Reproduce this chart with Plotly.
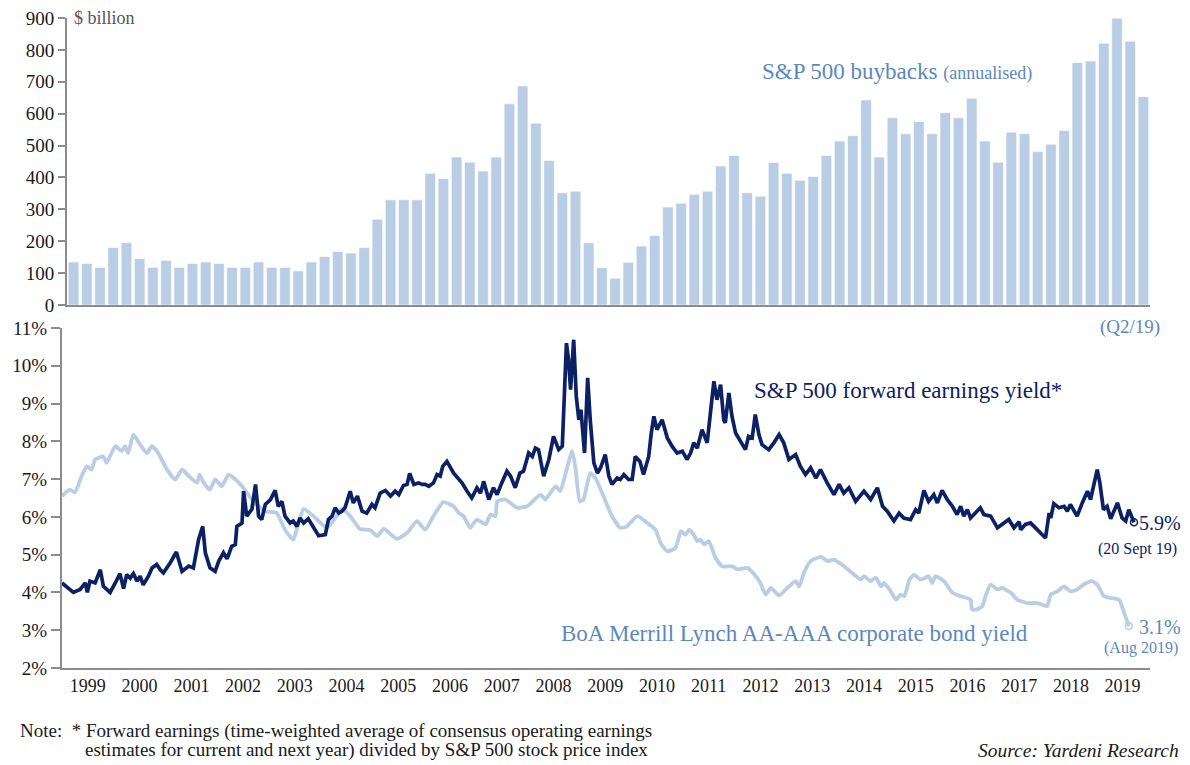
import pandas as pd
import plotly.graph_objects as go

# ---------------- DATA ----------------
# S&P 500 buybacks, annualised, $ billion, quarterly 1999Q1 .. 2019Q2
buyback_years = list(range(1999, 2020))
buybacks = [
    135, 130, 118, 180,   # 1999
    196, 146, 118, 140,   # 2000
    118, 130, 135, 130,   # 2001
    118, 118, 135, 118,   # 2002
    118, 107, 135, 152,   # 2003
    168, 163, 180, 269,   # 2004
    330, 330, 330, 413,   # 2005
    397, 464, 448, 420,   # 2006
    464, 631, 687, 570,   # 2007
    453, 352, 357, 195,   # 2008
    117, 84, 134, 185,    # 2009
    218, 307, 319, 347,   # 2010
    357, 436, 469, 352,   # 2011
    341, 447, 413, 391,   # 2012
    403, 469, 514, 531,   # 2013
    643, 464, 587, 537,   # 2014
    575, 537, 603, 587,   # 2015
    648, 514, 448, 542,   # 2016
    537, 481, 504, 547,   # 2017
    760, 765, 821, 899,   # 2018
    827, 653,             # 2019
]
buyback_ticks = [0, 100, 200, 300, 400, 500, 600, 700, 800, 900]

# S&P 500 forward earnings yield (%), time as decimal year
fwd_t = [
    1999.00, 1999.22, 1999.35, 1999.45, 1999.49, 1999.54, 1999.64, 1999.74, 1999.80, 1999.93,
    2000.03, 2000.12, 2000.19, 2000.25, 2000.32, 2000.38, 2000.45, 2000.51, 2000.57, 2000.67,
    2000.74, 2000.83, 2000.90, 2000.96, 2001.09, 2001.21, 2001.32, 2001.45, 2001.54, 2001.64,
    2001.72, 2001.77, 2001.86, 2001.96, 2002.03, 2002.12, 2002.19, 2002.28, 2002.35, 2002.38,
    2002.48, 2002.51, 2002.57, 2002.67, 2002.74, 2002.80, 2002.86, 2002.93, 2003.03, 2003.12,
    2003.18, 2003.25, 2003.31, 2003.41, 2003.47, 2003.54, 2003.60, 2003.67, 2003.76, 2003.86,
    2003.96, 2004.09, 2004.15, 2004.22, 2004.28, 2004.35, 2004.41, 2004.47, 2004.57, 2004.63,
    2004.71, 2004.80, 2004.89, 2004.99, 2005.05, 2005.15, 2005.25, 2005.35, 2005.44, 2005.51,
    2005.60, 2005.67, 2005.72, 2005.80, 2005.89, 2005.96, 2006.02, 2006.09, 2006.18, 2006.25,
    2006.31, 2006.36, 2006.44, 2006.57, 2006.73, 2006.83, 2006.92, 2007.02, 2007.09, 2007.15,
    2007.25, 2007.34, 2007.41, 2007.50, 2007.60, 2007.67, 2007.76, 2007.85, 2007.92, 2008.02,
    2008.09, 2008.15, 2008.21, 2008.31, 2008.41, 2008.50, 2008.60, 2008.67, 2008.75, 2008.79,
    2008.83, 2008.89, 2008.94, 2008.99, 2009.03, 2009.10, 2009.16, 2009.21, 2009.28, 2009.35,
    2009.41, 2009.50, 2009.57, 2009.63, 2009.73, 2009.79, 2009.86, 2009.95, 2010.02, 2010.08,
    2010.17, 2010.24, 2010.34, 2010.39, 2010.44, 2010.50, 2010.60, 2010.70, 2010.79, 2010.89,
    2010.99, 2011.08, 2011.15, 2011.21, 2011.28, 2011.37, 2011.47, 2011.53, 2011.60, 2011.66,
    2011.73, 2011.79, 2011.82, 2011.89, 2011.95, 2012.02, 2012.10, 2012.21, 2012.27, 2012.34,
    2012.40, 2012.47, 2012.53, 2012.66, 2012.76, 2012.86, 2012.95, 2013.05, 2013.18, 2013.27,
    2013.37, 2013.47, 2013.57, 2013.66, 2013.79, 2013.92, 2014.02, 2014.11, 2014.21, 2014.34,
    2014.50, 2014.63, 2014.76, 2014.86, 2014.95, 2015.08, 2015.18, 2015.27, 2015.40, 2015.50,
    2015.56, 2015.66, 2015.75, 2015.85, 2015.92, 2016.01, 2016.11, 2016.21, 2016.30, 2016.37,
    2016.43, 2016.50, 2016.56, 2016.66, 2016.75, 2016.82, 2016.95, 2017.08, 2017.21, 2017.30,
    2017.40, 2017.50, 2017.53, 2017.62, 2017.72, 2017.88, 2018.01, 2018.08, 2018.11, 2018.17,
    2018.27, 2018.37, 2018.43, 2018.49, 2018.62, 2018.72, 2018.82, 2018.88, 2018.93, 2019.01,
    2019.06, 2019.13, 2019.20, 2019.27, 2019.40, 2019.49, 2019.56, 2019.62, 2019.72,
]
fwd_yield = [
    4.25, 4.00, 4.08, 4.25, 4.00, 4.30, 4.25, 4.60, 4.16, 4.00,
    4.25, 4.50, 4.10, 4.47, 4.38, 4.50, 4.30, 4.43, 4.20, 4.43,
    4.65, 4.74, 4.60, 4.52, 4.78, 5.07, 4.56, 4.70, 4.65, 5.40,
    5.75, 5.05, 4.65, 4.56, 4.83, 5.05, 4.89, 5.22, 5.27, 5.75,
    5.84, 6.68, 6.02, 6.20, 6.86, 6.02, 5.93, 6.33, 6.46, 6.70,
    6.28, 6.41, 6.02, 5.84, 5.89, 5.75, 5.97, 5.84, 5.95, 5.71,
    5.50, 5.53, 5.93, 6.02, 6.24, 6.10, 6.15, 6.24, 6.68, 6.37,
    6.55, 6.15, 6.10, 6.33, 6.24, 6.63, 6.70, 6.55, 6.68, 6.59,
    6.83, 6.86, 7.15, 6.86, 6.90, 6.86, 6.86, 6.81, 6.90, 7.12,
    7.08, 7.34, 7.47, 7.16, 6.90, 6.68, 6.50, 6.77, 6.63, 6.94,
    6.46, 6.77, 6.59, 6.90, 7.21, 7.08, 6.77, 7.16, 7.21, 7.69,
    7.60, 7.82, 7.78, 7.08, 7.52, 8.13, 7.78, 7.87, 10.60, 10.16,
    9.37, 10.69, 9.19, 8.57, 8.84, 7.69, 9.68, 8.57, 7.43, 7.16,
    7.30, 7.65, 7.08, 6.86, 7.03, 6.99, 7.12, 6.99, 6.99, 7.60,
    7.47, 7.12, 7.60, 8.22, 8.66, 8.31, 8.57, 8.09, 7.87, 7.69,
    7.74, 7.52, 7.69, 7.96, 7.82, 8.31, 7.96, 8.71, 9.59, 9.10,
    9.50, 8.57, 8.49, 9.28, 8.66, 8.22, 8.04, 7.78, 8.13, 8.09,
    8.71, 8.18, 7.91, 7.78, 7.96, 8.18, 7.96, 7.52, 7.65, 7.34,
    7.12, 7.30, 7.03, 7.25, 6.90, 6.59, 6.86, 6.63, 6.77, 6.41,
    6.68, 6.46, 6.77, 6.28, 6.15, 5.89, 6.10, 5.97, 5.93, 6.19,
    6.10, 6.70, 6.41, 6.59, 6.37, 6.70, 6.46, 6.28, 6.06, 6.28,
    6.02, 6.19, 5.97, 6.10, 6.24, 6.06, 6.02, 5.71, 5.84, 5.93,
    5.71, 5.87, 5.66, 5.80, 5.84, 5.62, 5.44, 6.10, 5.97, 6.35,
    6.24, 6.28, 6.15, 6.33, 6.02, 6.37, 6.68, 6.46, 6.77, 7.25,
    6.90, 6.19, 6.28, 5.95, 6.37, 5.97, 5.89, 6.19, 5.86,
]

# BoA Merrill Lynch AA-AAA corporate bond yield (%), time as decimal year
bond_t = [
    1999.00, 1999.15, 1999.25, 1999.38, 1999.48, 1999.57, 1999.64, 1999.80, 1999.86, 2000.03,
    2000.15, 2000.22, 2000.28, 2000.38, 2000.51, 2000.64, 2000.74, 2000.86, 2001.03, 2001.19,
    2001.32, 2001.45, 2001.61, 2001.66, 2001.74, 2001.86, 2001.96, 2002.09, 2002.22, 2002.45,
    2002.70, 2002.93, 2003.15, 2003.31, 2003.47, 2003.57, 2003.67, 2003.86, 2004.12, 2004.31,
    2004.41, 2004.57, 2004.76, 2004.96, 2005.09, 2005.22, 2005.47, 2005.67, 2005.86, 2006.02,
    2006.18, 2006.37, 2006.57, 2006.67, 2006.76, 2006.89, 2007.02, 2007.19, 2007.28, 2007.38,
    2007.41, 2007.57, 2007.80, 2007.99, 2008.25, 2008.34, 2008.54, 2008.63, 2008.77, 2008.86,
    2008.92, 2009.01, 2009.08, 2009.21, 2009.31, 2009.44, 2009.63, 2009.79, 2009.92, 2010.12,
    2010.31, 2010.47, 2010.57, 2010.70, 2010.86, 2010.96, 2011.05, 2011.12, 2011.21, 2011.28,
    2011.34, 2011.41, 2011.50, 2011.63, 2011.76, 2011.96, 2012.05, 2012.25, 2012.41, 2012.50,
    2012.60, 2012.70, 2012.86, 2013.02, 2013.18, 2013.25, 2013.34, 2013.47, 2013.67, 2013.80,
    2013.92, 2014.12, 2014.31, 2014.44, 2014.50, 2014.63, 2014.73, 2014.83, 2014.89, 2015.02,
    2015.12, 2015.21, 2015.28, 2015.38, 2015.47, 2015.59, 2015.69, 2015.75, 2015.82, 2015.88,
    2016.05, 2016.21, 2016.37, 2016.56, 2016.59, 2016.69, 2016.79, 2016.85, 2016.95, 2017.08,
    2017.17, 2017.34, 2017.46, 2017.66, 2017.85, 2018.04, 2018.11, 2018.24, 2018.37, 2018.49,
    2018.62, 2018.75, 2018.91, 2019.01, 2019.14, 2019.24, 2019.43, 2019.53, 2019.62,
]
bond_yield = [
    6.55, 6.72, 6.65, 7.08, 7.34, 7.25, 7.52, 7.60, 7.43, 7.87,
    7.74, 7.87, 7.69, 8.18, 7.91, 7.69, 7.87, 7.69, 7.25, 6.99,
    7.25, 7.08, 6.90, 7.12, 6.90, 6.72, 6.99, 6.81, 7.12, 6.86,
    6.41, 6.15, 6.10, 5.66, 5.40, 5.84, 6.21, 6.02, 5.71, 6.02,
    6.21, 6.02, 5.68, 5.65, 5.49, 5.68, 5.42, 5.58, 5.89, 5.66,
    6.02, 6.39, 6.28, 6.10, 6.02, 5.71, 5.93, 5.80, 6.06, 6.02,
    6.41, 6.46, 6.24, 6.28, 6.59, 6.46, 6.81, 6.68, 7.34, 7.74,
    7.34, 6.41, 6.46, 7.16, 7.03, 6.63, 6.02, 5.71, 5.75, 6.02,
    5.84, 5.66, 5.31, 5.09, 5.18, 5.62, 5.53, 5.66, 5.53, 5.36,
    5.40, 5.27, 5.36, 4.92, 4.69, 4.69, 4.61, 4.65, 4.43, 4.25,
    3.94, 4.12, 3.92, 4.12, 4.30, 4.16, 4.52, 4.83, 4.94, 4.83,
    4.87, 4.69, 4.47, 4.34, 4.43, 4.30, 4.39, 4.16, 4.25, 4.03,
    3.81, 3.94, 3.90, 4.34, 4.47, 4.34, 4.39, 4.43, 4.25, 4.43,
    4.30, 3.99, 3.90, 3.81, 3.55, 3.55, 3.64, 3.90, 4.21, 4.08,
    4.12, 3.99, 3.81, 3.72, 3.72, 3.64, 3.94, 4.03, 4.16, 4.03,
    4.08, 4.21, 4.30, 4.21, 3.90, 3.86, 3.81, 3.46, 3.11,
]

# ---------------- HELPERS ----------------
# the page places the figure 8 px in from the top-left corner of the window
OFF = 8
W, H = 1190 - OFF, 765 - OFF
SERIF = "Liberation Serif"
NAVY = "#0B2164"
LIGHT = "#B9CDE5"
BLUE_TXT = "#5B87C0"
AXIS = "#8C8C8C"


def px(x):
    return (x - OFF) / W


def py(y):
    return 1 - (y - OFF) / H


def to_dates(ts):
    base = pd.Timestamp("1999-01-01")
    return [base + pd.to_timedelta((t - 1999) * 365.25, unit="D") for t in ts]


quarters = [f"{y}Q{q}" for y in buyback_years for q in range(1, 5)][: len(buybacks)]
fwd_dates = to_dates(fwd_t)
bond_dates = to_dates(bond_t)

fig = go.Figure()

# top: bars
fig.add_trace(go.Bar(
    x=quarters, y=buybacks, xaxis="x", yaxis="y",
    marker=dict(color=LIGHT, line=dict(color="white", width=0.6)),
    showlegend=False, hoverinfo="x+y",
))

# bottom: lines
fig.add_trace(go.Scatter(
    x=bond_dates, y=bond_yield, xaxis="x2", yaxis="y2", mode="lines",
    line=dict(color=LIGHT, width=3.8, shape="spline", smoothing=0.5),
    showlegend=False,
))
fig.add_trace(go.Scatter(
    x=fwd_dates, y=fwd_yield, xaxis="x2", yaxis="y2", mode="lines",
    line=dict(color=NAVY, width=3.7),
    showlegend=False,
))
# end-point open circles
fig.add_trace(go.Scatter(
    x=[bond_dates[-1]], y=[bond_yield[-1]], xaxis="x2", yaxis="y2", mode="markers",
    marker=dict(symbol="circle-open", size=7, color=LIGHT, line=dict(width=1.5, color=LIGHT)),
    showlegend=False,
))
fig.add_trace(go.Scatter(
    x=[fwd_dates[-1]], y=[fwd_yield[-1]], xaxis="x2", yaxis="y2", mode="markers",
    marker=dict(symbol="circle-open", size=7, color=NAVY, line=dict(width=1.5, color=NAVY)),
    showlegend=False,
))

tickfont = dict(family=SERIF, size=19, color="#1a1a1a")

fig.update_layout(
    width=W, height=H,
    margin=dict(l=0, r=0, t=0, b=0, pad=0, autoexpand=False),
    paper_bgcolor="white", plot_bgcolor="white",
    bargap=0.2,
    xaxis=dict(
        domain=[px(67), px(1150)], anchor="y", type="category",
        range=[-0.5, len(buybacks) - 0.5], automargin=False,
        showticklabels=False, ticks="", showgrid=False, zeroline=False,
        showline=True, linecolor=AXIS, linewidth=2,
    ),
    yaxis=dict(
        domain=[py(305), py(18)], anchor="x", range=[0, 900],
        tickmode="array", tickvals=buyback_ticks, automargin=False,
        ticklabeloverflow="allow",
        ticks="outside", ticklen=7, tickcolor=AXIS, tickwidth=1.5,
        showgrid=False, zeroline=False,
        showline=True, linecolor=AXIS, linewidth=2,
        tickfont=tickfont,
    ),
    xaxis2=dict(
        domain=[px(62), px(1150)], anchor="y2", type="date",
        range=["1999-01-01", "2020-01-12"], automargin=False,
        tick0="1999-01-01", dtick="M12", tickformat="%Y", ticklabelmode="period",
        ticks="", showgrid=False, zeroline=False,
        showline=True, linecolor=AXIS, linewidth=2,
        tickfont=dict(family=SERIF, size=18, color="#1a1a1a"),
    ),
    yaxis2=dict(
        domain=[py(668), py(328)], anchor="x2", range=[2, 11], dtick=1,
        ticksuffix="%", automargin=False, ticklabeloverflow="allow",
        ticks="outside", ticklen=9, tickcolor=AXIS, tickwidth=1.5,
        showgrid=False, zeroline=False,
        showline=True, linecolor=AXIS, linewidth=2,
        tickfont=tickfont,
    ),
)


def ann(text, x, y, size, color, xanchor="left", yanchor="middle", italic=False):
    fig.add_annotation(
        text=text, x=px(x), y=py(y), xref="paper", yref="paper",
        xanchor=xanchor, yanchor=yanchor, showarrow=False,
        font=dict(family=SERIF, size=size, color=color,
                  style="italic" if italic else "normal"),
    )


ann("$ billion", 72, 18, 18, "#555555")
ann("S&P 500 buybacks <span style='font-size:18px'>(annualised)</span>", 760, 72, 23, BLUE_TXT)
ann("(Q2/19)", 1162, 327, 19, BLUE_TXT, xanchor="right")
ann("S&P 500 forward earnings yield*", 752, 390, 23, NAVY)
ann("5.9%", 1137, 523, 20, NAVY)
ann("(20 Sept 19)", 1179, 549, 16, NAVY, xanchor="right")
ann("BoA Merrill Lynch AA-AAA corporate bond yield", 559, 633, 23, BLUE_TXT)
ann("3.1%", 1137, 627, 20, BLUE_TXT)
ann("(Aug 2019)", 1180, 648, 16, BLUE_TXT, xanchor="right")
ann("Note:  * Forward earnings (time-weighted average of consensus operating earnings",
    18, 731, 19, "#1a1a1a")
ann("estimates for current and next year) divided by S&P 500 stock price index",
    83, 750, 19, "#1a1a1a")
ann("Source: Yardeni Research", 1181, 750, 19.5, "#1a1a1a", xanchor="right", italic=True)

fig.write_html("out.html")
